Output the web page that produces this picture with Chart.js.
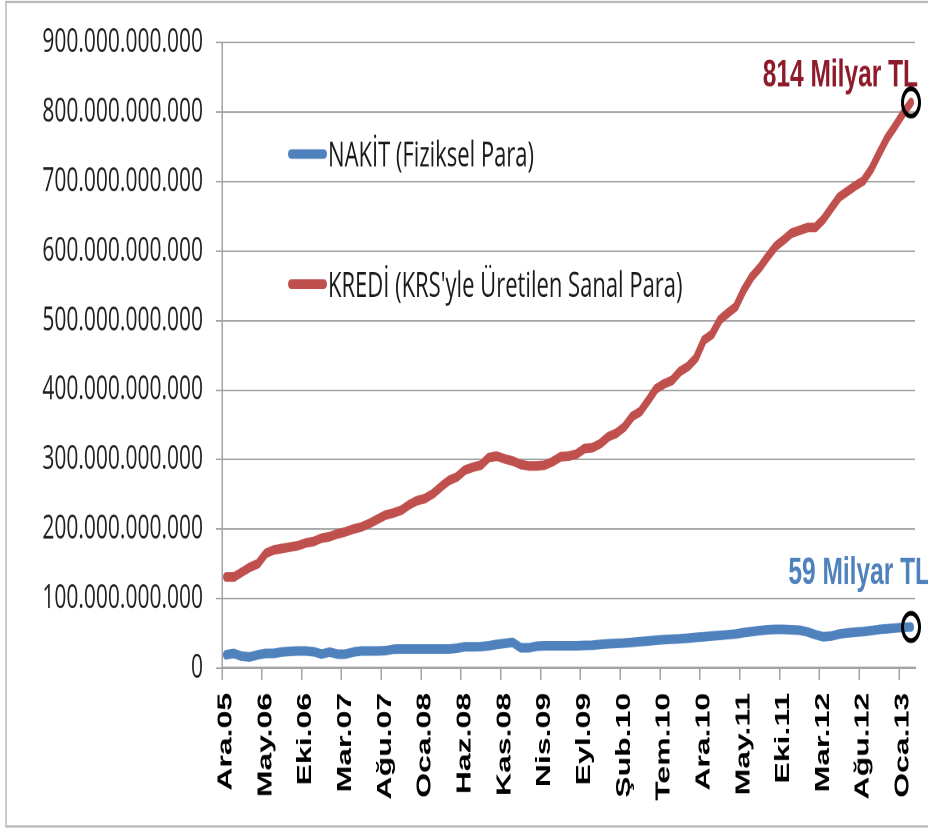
<!DOCTYPE html>
<html>
<head>
<meta charset="utf-8">
<script src="https://cdn.jsdelivr.net/npm/chart.js@4.4.1/dist/chart.umd.min.js"></script>
<style>
    html, body { margin: 0; padding: 0; background: #fff; }
</style>
</head>
<body>
<!-- the original picture is stretched in height, so draw on a shorter canvas and let css stretch it -->
<canvas id="myChart" width="928" height="518" style="width:928px;height:829px"></canvas>
<script>
// values in milyar TL, one per month from Ara.05 to Şub.13
var nakit = [19, 21, 17, 16, 19, 21, 21, 23, 24, 24.5,
    24.5, 23.5, 20, 23, 20, 20, 23, 24.5, 24.5, 24.5,
    25, 27, 27.5, 27.5, 27.5, 27.5, 27.5, 27.5, 27.5, 28.5,
    30.5, 30.5, 31, 32, 34, 35.5, 37, 29, 29, 31.5,
    32, 32, 32, 32, 32, 32.5, 33, 34, 35, 35.5,
    36, 37, 38, 39, 40, 41, 41.5, 42, 43, 44,
    45, 46, 47, 48, 49, 51, 52.5, 54, 55, 55.5,
    55.5, 55, 54.5, 52, 48, 45, 46, 49, 50.5, 51.5,
    52.5, 54, 55.5, 56.5, 57.5, 58.5, 59];

var kredi = [131, 131, 138, 145, 150, 165, 170, 172, 174, 176,
    180, 182, 187, 189, 193, 196, 200, 203, 208, 214,
    220, 223, 227, 235, 241, 244, 251, 261, 270, 275,
    285, 289, 292, 303, 305, 301, 298, 293, 291, 291,
    292, 297, 304, 305, 308, 316, 317, 323, 333, 338,
    347, 362, 369, 385, 402, 409, 414, 427, 434, 446,
    472, 480, 501, 511, 520, 544, 563, 576, 592, 607,
    616, 626, 630, 634, 634, 646, 662, 678, 686, 694,
    701, 718, 741, 763, 780, 798, 814];

var seriesNames = ['NAKİT (Fiziksel Para)', "KREDİ (KRS'yle Üretilen Sanal Para)"];
var endLabels = ['59 Milyar TL', '814 Milyar TL'];
var monthNames = ['Oca', 'Şub', 'Mar', 'Nis', 'May', 'Haz', 'Tem', 'Ağu', 'Eyl', 'Eki', 'Kas', 'Ara'];

// build month labels, first one is Ara.05
var labels = [];
for (var i = 0; i < nakit.length; i++) {
    var m = (11 + i) % 12;
    var y = 5 + Math.floor((11 + i) / 12);
    labels.push(monthNames[m] + '.' + (y < 10 ? '0' + y : '' + y));
}

function toTL(arr) {
    return arr.map(function (v) { return v * 1e9; });
}

function dotted(v) {
    return String(Math.round(v)).replace(/\B(?=(\d{3})+(?!\d))/g, '.');
}

var blue = '#4f81bd';
var red = '#c0504d';
var gridGray = '#a3a3a3';

// circle only on the last point
function lastOnly(size) {
    return function (c) { return c.dataIndex === nakit.length - 1 ? size : 0; };
}

// frame, legend inside the plot and the two value labels
var extras = {
    id: 'extras',
    afterDraw: function (chart) {
        var ctx = chart.ctx;
        ctx.save();
        ctx.strokeStyle = '#b9b9b9';
        ctx.lineWidth = 1.5;
        ctx.strokeRect(6, 1.2, 940, 515.2);

        var legendY = [96.2, 177.5];
        chart.data.datasets.forEach(function (ds, i) {
            ctx.strokeStyle = ds.borderColor;
            ctx.lineWidth = 6;
            ctx.lineCap = 'round';
            ctx.beginPath();
            ctx.moveTo(291, legendY[i]);
            ctx.lineTo(324, legendY[i]);
            ctx.stroke();
            ctx.fillStyle = '#1a1a1a';
            ctx.font = '22px "Open Sans"';
            ctx.textAlign = 'left';
            ctx.textBaseline = 'alphabetic';
            ctx.fillText(ds.label, 328, legendY[i] + 7.9);
        });

        var colors = ['#4f81bd', '#8e1b2c'];
        var shift = [[19, -27], [7, -10]];
        chart.data.datasets.forEach(function (ds, i) {
            var pts = chart.getDatasetMeta(i).data;
            var p = pts[pts.length - 1];
            ctx.fillStyle = colors[i];
            ctx.font = 'bold 24.5px "Liberation Sans", Arial';
            ctx.textAlign = 'right';
            ctx.fillText(endLabels[i], p.x + shift[i][0], p.y + shift[i][1]);
        });
        ctx.restore();
    }
};

var ctx = document.getElementById('myChart').getContext('2d');

var myChart = new Chart(ctx, {
    type: 'line',
    data: {
        labels: labels,
        datasets: [{
            label: seriesNames[0],
            data: toTL(nakit),
            borderColor: blue,
            backgroundColor: blue,
            borderWidth: 6,
            borderCapStyle: 'round',
            borderJoinStyle: 'round',
            tension: 0,
            clip: false,
            pointRadius: lastOnly(8.5),
            pointBorderWidth: 3,
            pointBorderColor: '#000',
            pointBackgroundColor: 'rgba(0,0,0,0)'
        }, {
            label: seriesNames[1],
            data: toTL(kredi),
            borderColor: red,
            backgroundColor: red,
            borderWidth: 6,
            borderCapStyle: 'round',
            borderJoinStyle: 'round',
            tension: 0,
            clip: false,
            pointRadius: lastOnly(8.5),
            pointBorderWidth: 3,
            pointBorderColor: '#000',
            pointBackgroundColor: 'rgba(0,0,0,0)'
        }]
    },
    options: {
        responsive: false,
        devicePixelRatio: 2,
        animation: false,
        layout: { padding: { top: 26.7, right: 13, bottom: 0, left: 0 } },
        plugins: {
            legend: { display: false },
            tooltip: { enabled: false }
        },
        scales: {
            x: {
                offset: true,
                grid: {
                    offset: true,
                    drawOnChartArea: false,
                    tickLength: 7.5,
                    lineWidth: 1.5,
                    color: function (c) {
                        return (c.index !== undefined && c.index % 5 === 0) ? gridGray : 'rgba(0,0,0,0)';
                    }
                },
                border: { color: gridGray, width: 1.5 },
                ticks: {
                    autoSkip: false,
                    minRotation: 90,
                    maxRotation: 90,
                    padding: 8,
                    color: '#000',
                    font: { family: '"Liberation Sans", Arial', size: 20, weight: 'bold' },
                    callback: function (val, index) {
                        return index % 5 === 0 ? this.getLabelForValue(val) : '';
                    }
                },
                afterFit: function (scale) {
                    scale.height = 100.6;
                    // no extra room for the rotated labels at the ends
                    scale.paddingLeft = 0;
                    scale.paddingRight = 0;
                }
            },
            y: {
                min: 0,
                max: 900e9,
                grid: { color: gridGray, tickLength: 6, lineWidth: 1 },
                border: { color: gridGray, width: 1.5 },
                ticks: {
                    stepSize: 100e9,
                    padding: 13,
                    color: '#1f1f1f',
                    font: { family: '"Open Sans"', size: 21 },
                    callback: function (v) { return dotted(v); }
                },
                afterFit: function (scale) { scale.width = 222; }
            }
        }
    },
    plugins: [extras]
});
</script>
</body>
</html>
